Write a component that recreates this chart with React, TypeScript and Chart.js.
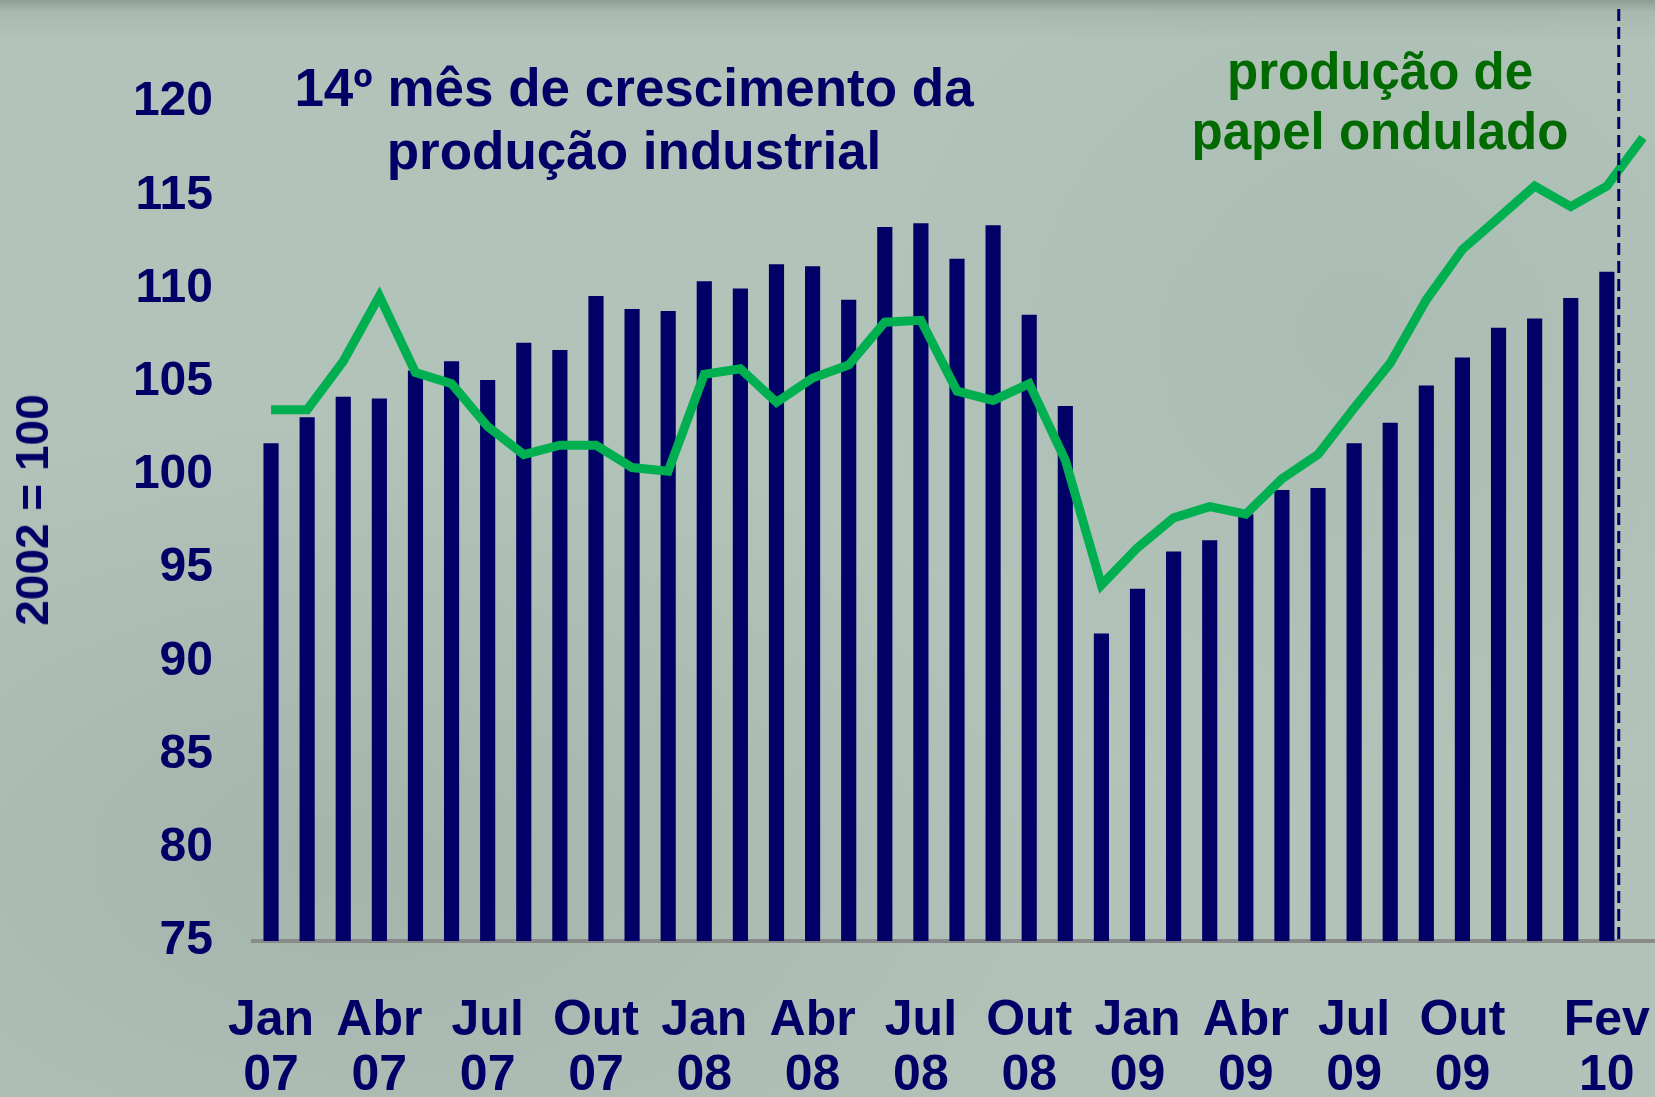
import React, { useEffect, useRef } from 'react';
import { Chart, registerables } from 'chart.js';

Chart.register(...registerables);

// Months (Portuguese), Jan 07 .. Mar 10
const CATEGORIES: string[] = [
  'Jan 07', 'Fev 07', 'Mar 07', 'Abr 07', 'Mai 07', 'Jun 07', 'Jul 07', 'Ago 07', 'Set 07', 'Out 07', 'Nov 07', 'Dez 07',
  'Jan 08', 'Fev 08', 'Mar 08', 'Abr 08', 'Mai 08', 'Jun 08', 'Jul 08', 'Ago 08', 'Set 08', 'Out 08', 'Nov 08', 'Dez 08',
  'Jan 09', 'Fev 09', 'Mar 09', 'Abr 09', 'Mai 09', 'Jun 09', 'Jul 09', 'Ago 09', 'Set 09', 'Out 09', 'Nov 09', 'Dez 09',
  'Jan 10', 'Fev 10', 'Mar 10',
];

const SHOWN_TICKS: string[] = [
  'Jan 07', 'Abr 07', 'Jul 07', 'Out 07',
  'Jan 08', 'Abr 08', 'Jul 08', 'Out 08',
  'Jan 09', 'Abr 09', 'Jul 09', 'Out 09',
  'Fev 10',
];

// Produção industrial (bars), 2002 = 100
const INDUSTRIAL: (number | null)[] = [
  101.7, 103.1, 104.2, 104.1, 105.6, 106.1, 105.1, 107.1, 106.7, 109.6, 108.9, 108.8,
  110.4, 110.0, 111.3, 111.2, 109.4, 113.3, 113.5, 111.6, 113.4, 108.6, 103.7, 91.5,
  93.9, 95.9, 96.5, 97.9, 99.2, 99.3, 101.7, 102.8, 104.8, 106.3, 107.9, 108.4,
  109.5, 110.9, null,
];

// Produção de papel ondulado (line), 2002 = 100
const CORRUGATED: number[] = [
  103.5, 103.5, 106.1, 109.6, 105.5, 104.9, 102.6, 101.1, 101.6, 101.6, 100.4, 100.2,
  105.4, 105.7, 103.9, 105.2, 105.9, 108.2, 108.3, 104.5, 104.0, 104.9, 100.8, 94.1,
  96.1, 97.7, 98.3, 97.9, 99.8, 101.1, 103.6, 106.0, 109.4, 112.1, 113.8, 115.5,
  114.4, 115.5, 118.1,
];

const Y_MIN = 75;
const Y_MAX = 125;
const Y_STEP = 5;
const Y_HIDDEN_TICK = 125;
const DIVIDER_POS = 37.33;

const NAVY = '#000066';
const GREEN_LINE = '#00b050';
const GREEN_TEXT = '#006a00';
const FONT = '"Liberation Sans", Arial, Helvetica, sans-serif';

const dividerPlugin = {
  id: 'dividerLine',
  afterDatasetsDraw(chart: any) {
    const { ctx, chartArea, scales } = chart;
    const x = scales.x.getPixelForValue(DIVIDER_POS);
    ctx.save();
    ctx.strokeStyle = NAVY;
    ctx.lineWidth = 3;
    ctx.setLineDash([12, 6]);
    ctx.beginPath();
    ctx.moveTo(x, chartArea.top);
    ctx.lineTo(x, chartArea.bottom);
    ctx.stroke();
    ctx.restore();
  },
};

export default function App() {
  const canvasRef = useRef<HTMLCanvasElement | null>(null);

  useEffect(() => {
    if (!canvasRef.current) return;
    const chart = new Chart(canvasRef.current, {
      type: 'bar',
      data: {
        labels: CATEGORIES,
        datasets: [
          {
            type: 'line',
            label: 'produção de papel ondulado',
            data: CORRUGATED,
            borderColor: GREEN_LINE,
            backgroundColor: GREEN_LINE,
            borderWidth: 9,
            pointRadius: 0,
            tension: 0,
            order: 0,
          } as any,
          {
            type: 'bar',
            label: 'produção industrial',
            data: INDUSTRIAL,
            backgroundColor: NAVY,
            borderWidth: 0,
            barPercentage: 0.42,
            categoryPercentage: 1,
            order: 1,
          } as any,
        ],
      },
      options: {
        responsive: false,
        animation: false,
        layout: { padding: { top: 9, left: 0, right: 0, bottom: 0 } },
        plugins: {
          legend: { display: false },
          tooltip: { enabled: false },
          title: { display: false },
        },
        scales: {
          x: {
            type: 'category',
            offset: true,
            grid: { display: false, drawTicks: false },
            border: { display: true, color: '#8a8a8a', width: 4 },
            ticks: {
              autoSkip: false,
              maxRotation: 0,
              minRotation: 0,
              padding: 53,
              color: NAVY,
              font: { family: FONT, size: 50, weight: 'bold', lineHeight: 1.1 },
              callback: (_v: any, index: number) => {
                const lab = CATEGORIES[index];
                return SHOWN_TICKS.includes(lab) ? lab.split(' ') : '';
              },
            },
            afterFit: (scale: any) => {
              scale.height = 156;
              scale.paddingLeft = 0;
              scale.paddingRight = 0;
            },
          },
          y: {
            type: 'linear',
            min: Y_MIN,
            max: Y_MAX,
            grid: { display: false, drawTicks: false },
            border: { display: false },
            ticks: {
              stepSize: Y_STEP,
              padding: 40,
              color: NAVY,
              font: { family: FONT, size: 48, weight: 'bold' },
              callback: (v: any) => (Number(v) === Y_HIDDEN_TICK ? '' : String(v)),
            },
            afterFit: (scale: any) => {
              scale.width = 253;
              scale.paddingTop = 0;
              scale.paddingBottom = 0;
            },
          },
        },
      },
      plugins: [dividerPlugin],
    });
    return () => chart.destroy();
  }, []);

  return (
    <div
      style={{
        position: 'fixed',
        left: 0,
        top: 0,
        width: 1655,
        height: 1097,
        overflow: 'hidden',
        background:
          'radial-gradient(ellipse 45% 40% at 22% 78%, rgba(130,150,140,0.3), rgba(130,150,140,0) 100%),' +
          'radial-gradient(ellipse 30% 45% at 82% 30%, rgba(140,160,150,0.18), rgba(140,160,150,0) 100%),' +
          'linear-gradient(180deg, #8d9e96 0px, #a8b9b0 12px, #b2c3ba 40px, #b1c2b9 100%)',
        fontFamily: FONT,
      }}
    >
      <canvas
        ref={canvasRef}
        width={1661}
        height={1097}
        style={{ position: 'absolute', left: 0, top: 0, width: 1661, height: 1097 }}
      />
      <div
        style={{
          position: 'absolute',
          left: 234,
          top: 56,
          width: 800,
          textAlign: 'center',
          color: NAVY,
          fontWeight: 'bold',
          fontSize: 53,
          lineHeight: '63px',
          whiteSpace: 'nowrap',
        }}
      >
        14º mês de crescimento da
        <br />
        produção industrial
      </div>
      <div
        style={{
          position: 'absolute',
          left: 1130,
          top: 42,
          width: 500,
          textAlign: 'center',
          color: GREEN_TEXT,
          fontWeight: 'bold',
          fontSize: 51,
          lineHeight: '60px',
          whiteSpace: 'nowrap',
        }}
      >
        produção de
        <br />
        papel ondulado
      </div>
      <div
        style={{
          position: 'absolute',
          left: 32,
          top: 510,
          transform: 'translate(-50%, -50%) rotate(-90deg)',
          color: NAVY,
          fontWeight: 'bold',
          fontSize: 46,
          whiteSpace: 'nowrap',
        }}
      >
        2002 = 100
      </div>
    </div>
  );
}
